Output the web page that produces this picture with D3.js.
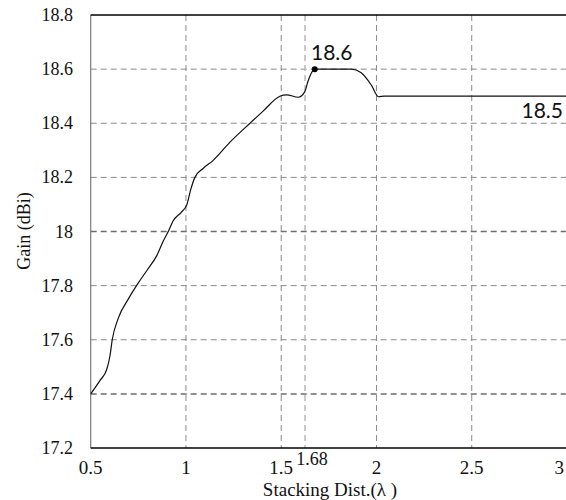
<!DOCTYPE html>
<html><head><meta charset="utf-8">
<script src="https://cdn.jsdelivr.net/npm/d3@7"></script>
<style>body{margin:0;background:#fff}svg{display:block}.sf{font-family:"Liberation Serif","DejaVu Serif",serif}.ss{font-family:Lato,"Open Sans",sans-serif}</style>
</head><body>
<svg id="c" width="566" height="500"></svg>
<script>
const xVals = [0.5,0.549,0.584,0.601,0.613,0.645,0.697,0.75,0.794,0.846,0.881,0.907,0.933,0.974,1.005,1.025,1.047,1.09,1.143,1.231,1.336,1.405,1.493,1.528,1.589,1.624,1.64,1.676,1.868,1.92,1.974,2.01,2.04,3.0];
const gain  = [17.40,17.45,17.49,17.54,17.60,17.68,17.75,17.81,17.855,17.91,17.965,18.0,18.04,18.07,18.10,18.155,18.20,18.233,18.263,18.33,18.40,18.445,18.50,18.505,18.496,18.517,18.554,18.60,18.60,18.587,18.54,18.498,18.50,18.50];
const xTicks = [0.5,1,1.5,2,2.5,3];
const xTickLabels = ["0.5","1","1.5","2","2.5","3"];
const yTicks = [17.2,17.4,17.6,17.8,18,18.2,18.4,18.6,18.8];
const yTickLabels = ["17.2","17.4","17.6","17.8","18","18.2","18.4","18.6","18.8"];
const markerLine = 1.625, markerLabel = "1.68";
const peak = {x:1.676, y:18.6, label:"18.6"};
const endLabel = {x:3, y:18.5, label:"18.5"};

const svg = d3.select("#c");
const x = d3.scaleLinear().domain([0.5,3]).range([90.7,567]);
const y = d3.scaleLinear().domain([17.2,18.8]).range([448,15]);

// grid
svg.append("g").selectAll("line").data(xTicks.slice(1)).join("line")
  .attr("x1",d=>x(d)).attr("x2",d=>x(d)).attr("y1",y(18.8)).attr("y2",y(17.2))
  .attr("stroke","#8a8a8a").attr("stroke-width",1).attr("stroke-dasharray","6,4");
svg.append("g").selectAll("line").data(yTicks.slice(1,-1)).join("line")
  .attr("x1",x(0.5)).attr("x2",x(3)).attr("y1",d=>y(d)).attr("y2",d=>y(d))
  .attr("stroke",d=>(d===18||d===17.4)?"#6e6e6e":"#8a8a8a")
  .attr("stroke-width",d=>(d===18||d===17.4)?1.5:1).attr("stroke-dasharray","6,4");
svg.append("line").attr("x1",x(markerLine)).attr("x2",x(markerLine))
  .attr("y1",y(18.8)).attr("y2",y(17.2))
  .attr("stroke","#b8b8b8").attr("stroke-width",1.5).attr("stroke-dasharray","6,4");

// axes frame
svg.append("line").attr("x1",x(0.5)).attr("x2",x(0.5)).attr("y1",y(18.8)).attr("y2",y(17.2))
  .attr("stroke","#7a7a7a").attr("stroke-width",1.2);
svg.append("line").attr("x1",x(0.5)).attr("x2",x(3)).attr("y1",y(17.2)).attr("y2",y(17.2))
  .attr("stroke","#000").attr("stroke-width",1.5);
svg.append("line").attr("x1",x(0.5)).attr("x2",x(3)).attr("y1",y(18.8)).attr("y2",y(18.8))
  .attr("stroke","#000").attr("stroke-width",1.5);

// tick labels
svg.append("g").selectAll("text").data(yTicks).join("text").attr("class","sf")
  .attr("x",73).attr("y",d=>y(d)+6).attr("text-anchor","end")
  .attr("font-size",18).attr("fill","#111")
  .text((d,i)=>yTickLabels[i]);
svg.append("g").selectAll("text").data(xTicks).join("text").attr("class","sf")
  .attr("x",d=>Math.min(x(d),564)).attr("y",474)
  .attr("text-anchor",d=>x(d)>560?"end":"middle")
  .attr("font-size",19).attr("fill","#111")
  .text((d,i)=>xTickLabels[i]);
svg.append("text").attr("class","sf").attr("x",x(markerLine)+7).attr("y",465).attr("text-anchor","middle")
  .attr("font-size",18).attr("fill","#111").text(markerLabel);

// axis titles
svg.append("text").attr("class","sf").attr("x",330).attr("y",496).attr("text-anchor","middle")
  .attr("font-size",19).attr("fill","#111").text("Stacking Dist.(λ )");
svg.append("text").attr("class","sf").attr("transform","translate(30,231) rotate(-90)").attr("text-anchor","middle")
  .attr("font-size",18).attr("fill","#111").text("Gain (dBi)");

// curve
const pts = xVals.map((v,i)=>[v,gain[i]]);
svg.append("path").datum(pts)
  .attr("d",d3.line().x(d=>x(d[0])).y(d=>y(d[1])).curve(d3.curveMonotoneX))
  .attr("fill","none").attr("stroke","#111").attr("stroke-width",1.2);

// annotations
svg.append("circle").attr("cx",x(peak.x)).attr("cy",y(peak.y)).attr("r",3).attr("fill","#000");
svg.append("text").attr("class","ss").attr("x",x(peak.x)+17).attr("y",y(peak.y)-9).attr("text-anchor","middle")
  .attr("font-size",21).attr("fill","#111").text(peak.label);
svg.append("text").attr("class","ss").attr("x",x(endLabel.x)-4).attr("y",y(endLabel.y)+22).attr("text-anchor","end")
  .attr("font-size",21).attr("fill","#111").text(endLabel.label);
</script>
</body></html>
